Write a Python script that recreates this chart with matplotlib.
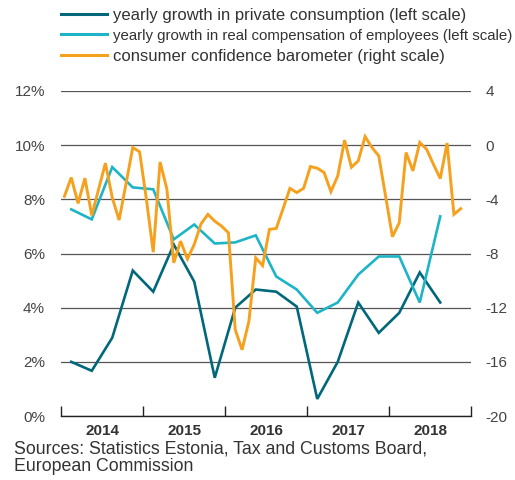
import matplotlib
matplotlib.use("Agg")
import matplotlib.pyplot as plt
from matplotlib.lines import Line2D
import numpy as np

plt.rcParams['font.family'] = ['Liberation Sans', 'DejaVu Sans']

# ---- data ----
years = [2014, 2015, 2016, 2017, 2018]
year_labels = ['2014', '2015', '2016', '2017', '2018']

# quarterly, 2014Q1 .. 2018Q3 (left scale, %)
private_consumption = [2.0, 1.67, 2.89, 5.37, 4.59, 6.33, 4.96, 1.41, 4.0, 4.67,
                       4.59, 4.04, 0.63, 2.0, 4.19, 3.07, 3.81, 5.30, 4.19]
real_compensation = [7.63, 7.26, 9.19, 8.44, 8.37, 6.52, 7.07, 6.37, 6.41, 6.67,
                     5.15, 4.67, 3.81, 4.19, 5.22, 5.89, 5.89, 4.19, 7.37]

# monthly, Jan 2014 .. Nov 2018 (right scale)
confidence = [-3.78, -2.39, -4.30, -2.44, -5.19, -3.26, -1.33, -3.87, -5.53, -2.89,
              -0.17, -0.49, -4.0, -7.9, -1.24, -3.26, -8.69, -7.09, -8.4, -7.33,
              -5.80, -5.11, -5.61, -5.98, -6.47, -13.63, -15.11, -13.0, -8.32, -8.89,
              -6.22, -6.15, -4.69, -3.19, -3.5, -3.19, -1.58, -1.70, -2.02, -3.43,
              -2.27, 0.37, -1.63, -1.16, 0.64, -0.17, -0.79, -3.76, -6.76, -5.73,
              -0.54, -1.9, 0.2, -0.3, -1.41, -2.47, 0.15, -5.11, -4.69]

left_ticks = [0, 2, 4, 6, 8, 10, 12]
right_ticks = [-20, -16, -12, -8, -4, 0, 4]

labels = ['yearly growth in private consumption (left scale)',
          'yearly growth in real compensation of employees (left scale)',
          'consumer confidence barometer (right scale)']
c_dark = '#00687a'
c_cyan = '#1db4c8'
c_orange = '#f6a11e'

# ---- positions ----
xq = years[0] + (np.arange(len(private_consumption)) + 0.5) / 4.0
xm = years[0] + (np.arange(len(confidence)) + 0.5) / 12.0

fig = plt.figure(figsize=(5.15, 4.8), dpi=100)
ax = fig.add_axes([61/515, 64/480, 410/515, 325/480])
ax2 = ax.twinx()

ax.plot(xq, private_consumption, color=c_dark, lw=1.9, solid_joinstyle='miter', zorder=3)
ax.plot(xq, real_compensation, color=c_cyan, lw=1.9, solid_joinstyle='miter', zorder=4)
ax2.plot(xm, confidence, color=c_orange, lw=2.1, solid_joinstyle='miter', zorder=5)

ax.set_xlim(years[0], years[-1] + 1)
ax.set_ylim(0, 12)
ax2.set_ylim(-20, 4)
ax.set_yticks(left_ticks)
ax.set_yticklabels([f'{v}%' for v in left_ticks])
ax2.set_yticks(right_ticks)
ax2.set_yticklabels([str(v) for v in right_ticks])

ax.yaxis.grid(True, color='#555555', lw=0.9)
ax.set_axisbelow(True)

for a in (ax, ax2):
    for s in ('top', 'left', 'right', 'bottom'):
        a.spines[s].set_visible(False)
ax.spines['bottom'].set_visible(True)
ax.spines['bottom'].set_color('#222222')
ax.spines['bottom'].set_linewidth(1.0)

ax.tick_params(axis='y', length=0, pad=11.5, labelsize=11, labelcolor='#444444')
ax2.tick_params(axis='y', length=0, pad=10.5, labelsize=11, labelcolor='#444444')

ax.set_xticks(years + [years[-1] + 1])
ax.set_xticklabels([])
ax.set_xticks([y + 0.5 for y in years], minor=True)
ax.set_xticklabels(year_labels, minor=True, fontweight='bold', fontsize=11, color='#333333')
ax.tick_params(axis='x', which='major', direction='in', length=7, width=1, color='#222222')
ax.tick_params(axis='x', which='minor', length=0, pad=6)

handles = [Line2D([], [], color=c, lw=2.2) for c in (c_dark, c_cyan, c_orange)]
leg = fig.legend(handles, labels, loc='upper left', bbox_to_anchor=(61/515, 1 - 8/480),
                 frameon=False, fontsize=12, handlelength=2.75, handletextpad=0.36,
                 labelspacing=0.33, labelcolor='#333333', borderpad=0, borderaxespad=0)
leg.get_texts()[1].set_fontsize(10.8)

fig.text(14/515, 1 - 441/480, 'Sources: Statistics Estonia, Tax and Customs Board,\nEuropean Commission',
         fontsize=12.8, color='#333333', va='top', ha='left', linespacing=0.97)

fig.savefig('out.png', dpi=100)
